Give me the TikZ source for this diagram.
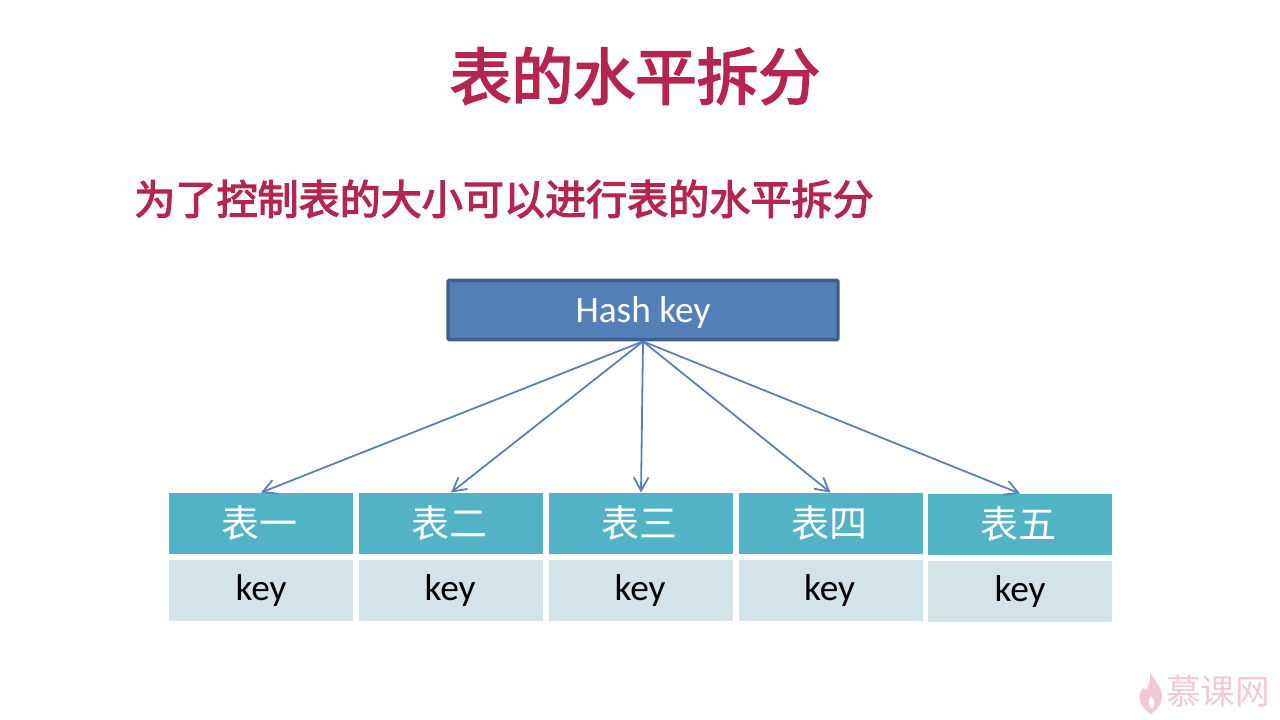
\documentclass[tikz,border=0pt]{standalone}
\usepackage{fontspec}
\setmainfont{Carlito}
\newfontfamily\cjk{Noto Sans CJK SC}
\newfontfamily\cjkmid[FakeBold=3]{Noto Sans CJK SC}
\usetikzlibrary{arrows.meta}
\definecolor{titlered}{HTML}{B5264F}
\definecolor{hashfill}{HTML}{5380B8}
\definecolor{hashline}{HTML}{3F5F8C}
\definecolor{headfill}{HTML}{53B3C6}
\definecolor{keyfill}{HTML}{D2E3EA}
\definecolor{linkblue}{HTML}{5B80B5}
\definecolor{markpink}{HTML}{F0CAD3}
\tikzset{
  x=0.75pt,y=-0.75pt,
  heading/.style={text=titlered,inner sep=0pt,font=\cjkmid\fontsize{46.3}{50}\selectfont},
  subheading/.style={text=titlered,inner sep=0pt,font=\cjkmid\fontsize{30.8}{34}\selectfont},
  hashbox/.style={draw=hashline,fill=hashfill,line width=2.6pt,rounded corners=1pt,minimum width=292.5pt,minimum height=44.5pt,inner sep=0pt,text=white,text height=21pt,text depth=3pt,font=\fontsize{28}{32}\selectfont},
  headbox/.style={fill=headfill,minimum width=138pt,minimum height=46pt,inner sep=0pt,text=white,font=\cjk\fontsize{28.5}{32}\selectfont},
  keybox/.style={fill=keyfill,minimum width=138pt,minimum height=46pt,inner sep=0pt,text=black,font=\fontsize{28}{32}\selectfont},
  link/.style={draw=linkblue,line width=1.35pt,-{Straight Barb[length=10pt,width=11pt,line width=1.35pt]}},
  brand/.style={text=markpink,inner sep=0pt,font=\cjk\fontsize{26}{28}\selectfont}
}
\begin{document}
\begin{tikzpicture}
\useasboundingbox (0,0) rectangle (1280,720);
\node[heading] (title) at (635,76) {表的水平拆分};
\node[subheading] (sub) at (504,199) {为了控制表的大小可以进行表的水平拆分};
\node[hashbox] (hash) at (643,310) {Hash key};
% five table columns: header cell over key cell
\node[headbox] (t1) at (261,523.5) {\hspace{-2pt}表一};
\node[headbox] (t2) at (451,523.5) {\hspace{-2pt}表二};
\node[headbox] (t3) at (641,523.5) {\hspace{-2pt}表三};
\node[headbox] (t4) at (830.5,523.5) {\hspace{-2pt}表四};
\node[headbox] (t5) at (1020,524.5) {\hspace{-2pt}表五};
\node[keybox] (k1) at (261,590.5) {key};
\node[keybox] (k2) at (451,590.5) {\hspace{-1.5pt}key};
\node[keybox] (k3) at (641,590.5) {\hspace{-1.5pt}key};
\node[keybox] (k4) at (830.5,590.5) {\hspace{-1.5pt}key};
\node[keybox] (k5) at (1020,591.5) {key};
\foreach \n in {1,...,5}{\draw[link] (hash.south) -- (t\n.north);}
% flame mark and brand name
\fill[markpink,even odd rule] (1150,672) .. controls (1154,680) and (1163,688) .. (1162,698)
  .. controls (1161,707) and (1155,711) .. (1151,714)
  .. controls (1144,710) and (1138,703) .. (1140,694)
  .. controls (1141,689) and (1144,686) .. (1146,690)
  .. controls (1149,685) and (1151,678) .. (1150,672) -- cycle
  (1151,696) .. controls (1155,700) and (1156,705) .. (1152,709)
  .. controls (1148,706) and (1147,700) .. (1151,696) -- cycle;
\node[brand] (logo) at (1218,691) {慕课网};
\end{tikzpicture}
\end{document}
